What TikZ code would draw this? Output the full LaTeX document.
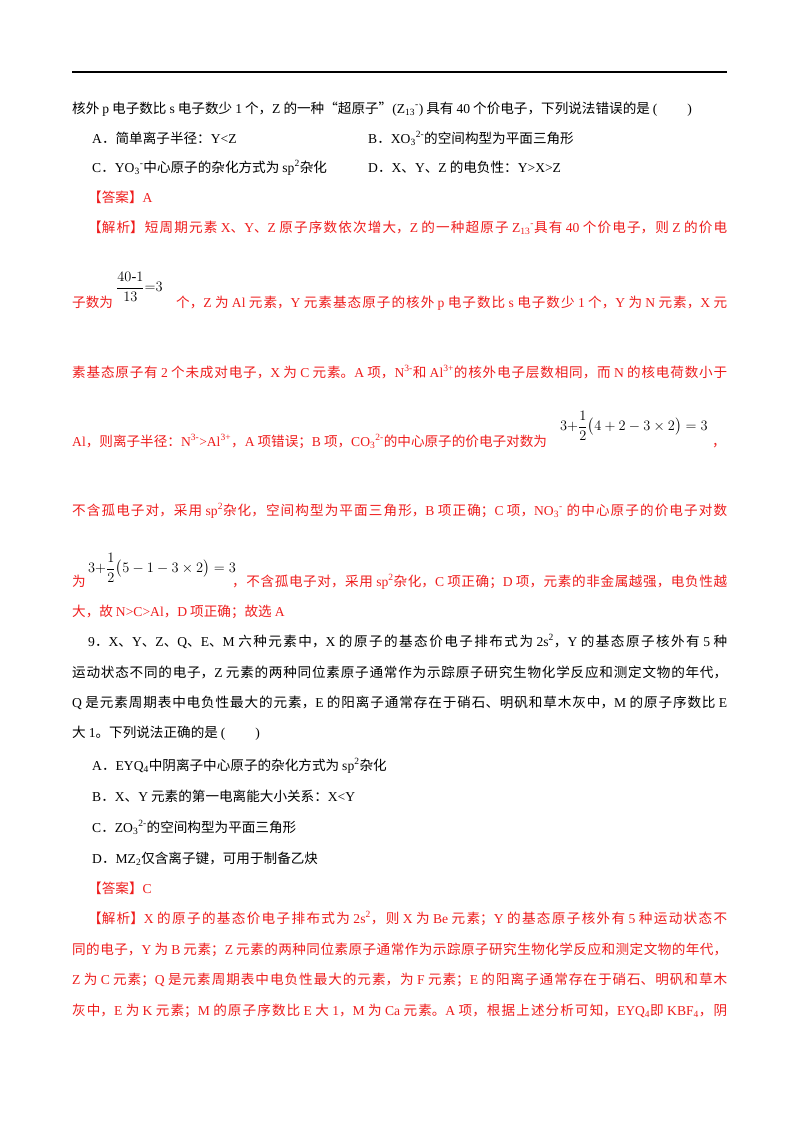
\documentclass[tikz,border=0pt]{standalone}
\usepackage{amsmath}
\usepackage{fontspec}
\setmainfont{Liberation Serif}
\newfontfamily\cjkf{Noto Sans CJK SC}
\newcommand\latf{\rmfamily}
\XeTeXlinebreaklocale "zh"
\XeTeXlinebreakskip=0pt plus 4pt minus 0.3pt
\newXeTeXintercharclass\ideoclass
\newXeTeXintercharclass\punclass
\makeatletter
\count@="4E00
\loop\ifnum\count@<"A000 \XeTeXcharclass\count@=\ideoclass \advance\count@ 1 \repeat
\count@="3000
\loop\ifnum\count@<"3040 \XeTeXcharclass\count@=\punclass \advance\count@ 1 \repeat
\count@="FF00
\loop\ifnum\count@<"FFF0 \XeTeXcharclass\count@=\punclass \advance\count@ 1 \repeat
\makeatother
\XeTeXcharclass"201C=\punclass
\XeTeXcharclass"201D=\punclass
\XeTeXinterchartoks 0 \ideoclass={\cjkf\hskip0.22em plus 0.1em\relax}
\XeTeXinterchartoks \ideoclass 0={\latf\hskip0.22em plus 0.1em\relax}
\XeTeXinterchartoks 0 \punclass={\cjkf}
\XeTeXinterchartoks \punclass 0={\latf}
\XeTeXinterchartoks 4095 \ideoclass={\cjkf}
\XeTeXinterchartoks 4095 \punclass={\cjkf}
\XeTeXinterchartoks 4095 0={\latf}
\XeTeXinterchartokenstate=1
\definecolor{ans}{RGB}{238,28,28}
\newcommand\fw[2]{\parbox[b]{#1pt}{\parfillskip=0pt\relax #2}}
\newcommand\sub[1]{\textsubscript{#1}}
\newcommand\sups[1]{\textsuperscript{#1}}
\begin{document}
\begin{tikzpicture}[x=1pt,y=-1pt,
  txt/.style={anchor=base west,inner sep=0pt,font=\fontsize{13.6}{16}\selectfont},
  red/.style={txt,text=ans},
  fml/.style={inner sep=0pt,font=\fontsize{14.5}{17}\selectfont}]
\useasboundingbox (0,0) rectangle (800,1132);
\draw[line width=1.6pt] (72,72) -- (727,72);
\node[txt] (l1) at (72,113) {核外p电子数比s电子数少1个，Z的一种“超原子”(Z\sub{13}\sups{-})具有40个价电子，下列说法错误的是(\hspace{2.2em})};
\node[txt] (a1) at (92,143) {A．简单离子半径：Y<Z};
\node[txt] (b1) at (368,143) {B．XO\sub{3}\sups{2-}的空间构型为平面三角形};
\node[txt] (c1) at (92,172) {C．YO\sub{3}\sups{-}中心原子的杂化方式为sp\sups{2}杂化};
\node[txt] (d1) at (368,172) {D．X、Y、Z的电负性：Y>X>Z};
\node[red] (ans1) at (88,202) {【答案】A};
\node[red] (j1) at (88,232) {\fw{639}{【解析】短周期元素X、Y、Z原子序数依次增大，Z的一种超原子Z\sub{13}\sups{-}具有40个价电子，则Z的价电}};
\node[red] (j2) at (72,307) {子数为};
\node[fml,anchor=west] (f1) at (116,287) {$\dfrac{40\text{-}1}{13}{=}3$};
\node[red] (j2b) at (176,307) {\fw{551}{个，Z为Al元素，Y元素基态原子的核外p电子数比s电子数少1个，Y为N元素，X元}};
\node[red] (j3) at (72,377) {\fw{655}{素基态原子有2个未成对电子，X为C元素。A项，N\sups{3-}和Al\sups{3+}的核外电子层数相同，而N的核电荷数小于}};
\node[red] (j4) at (72,446) {Al，则离子半径：N\sups{3-}>Al\sups{3+}，A项错误；B项，CO\sub{3}\sups{2-}的中心原子的价电子对数为};
\node[fml,anchor=west] (f2) at (560,426) {$3{+}\dfrac{1}{2}\bigl(4+2-3\times2\bigr)=3$};
\node[red] (j4b) at (712,446) {，};
\node[red] (j5) at (72,515) {\fw{655}{不含孤电子对，采用sp\sups{2}杂化，空间构型为平面三角形，B项正确；C项，NO\sub{3}\sups{-}\ 的中心原子的价电子对数}};
\node[red] (j6) at (72,586) {为};
\node[fml,anchor=west] (f3) at (88,568) {$3{+}\dfrac{1}{2}\bigl(5-1-3\times2\bigr)=3$};
\node[red] (j6b) at (232,586) {\fw{495}{，不含孤电子对，采用sp\sups{2}杂化，C项正确；D项，元素的非金属越强，电负性越}};
\node[red] (j7) at (72,616) {大，故N>C>Al，D项正确；故选A};
\node[txt] (q1) at (88,646) {\fw{639}{9．X、Y、Z、Q、E、M六种元素中，X的原子的基态价电子排布式为2s\sups{2}，Y的基态原子核外有5种}};
\node[txt] (q2) at (72,677) {\fw{655}{运动状态不同的电子，Z元素的两种同位素原子通常作为示踪原子研究生物化学反应和测定文物的年代，}};
\node[txt] (q3) at (72,707) {\fw{655}{Q是元素周期表中电负性最大的元素，E的阳离子通常存在于硝石、明矾和草木灰中，M的原子序数比E}};
\node[txt] (q4) at (72,737) {大1。下列说法正确的是(\hspace{2.2em})};
\node[txt] (qa) at (92,770) {A．EYQ\sub{4}中阴离子中心原子的杂化方式为sp\sups{2}杂化};
\node[txt] (qb) at (92,801) {B．X、Y元素的第一电离能大小关系：X<Y};
\node[txt] (qc) at (92,832) {C．ZO\sub{3}\sups{2-}的空间构型为平面三角形};
\node[txt] (qd) at (92,863) {D．MZ\sub{2}仅含离子键，可用于制备乙炔};
\node[red] (ans2) at (88,893) {【答案】C};
\node[red] (k1) at (88,923) {\fw{639}{【解析】X的原子的基态价电子排布式为2s\sups{2}，则X为Be元素；Y的基态原子核外有5种运动状态不}};
\node[red] (k2) at (72,954) {\fw{655}{同的电子，Y为B元素；Z元素的两种同位素原子通常作为示踪原子研究生物化学反应和测定文物的年代，}};
\node[red] (k3) at (72,984) {\fw{655}{Z为C元素；Q是元素周期表中电负性最大的元素，为F元素；E的阳离子通常存在于硝石、明矾和草木}};
\node[red] (k4) at (72,1015) {\fw{655}{灰中，E为K元素；M的原子序数比E大1，M为Ca元素。A项，根据上述分析可知，EYQ\sub{4}即KBF\sub{4}，阴}};
\end{tikzpicture}
\end{document}
